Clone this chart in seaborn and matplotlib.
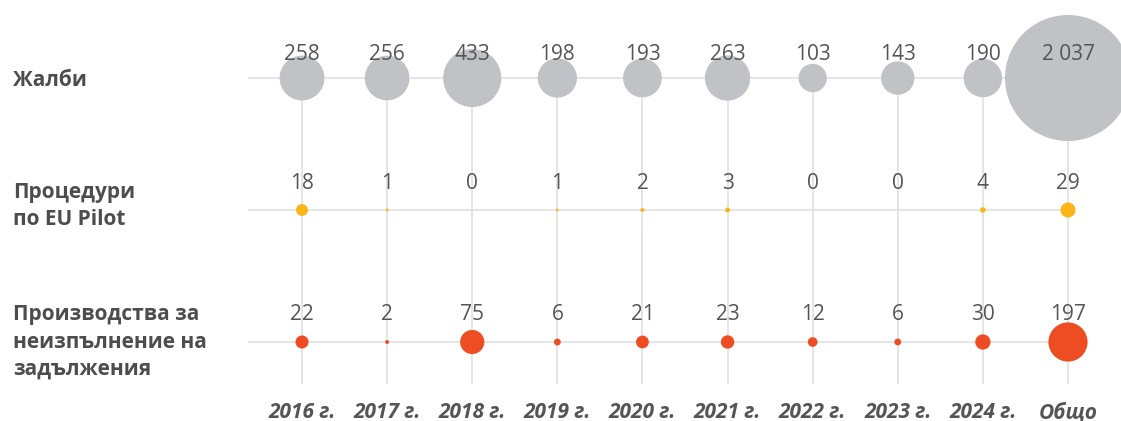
import numpy as np
import pandas as pd
import matplotlib
matplotlib.use("Agg")
import matplotlib.pyplot as plt
import seaborn as sns

# ---- data ----
columns = ["2016 г.", "2017 г.", "2018 г.", "2019 г.", "2020 г.", "2021 г.",
           "2022 г.", "2023 г.", "2024 г.", "Общо"]
row_labels = ["Жалби", "Процедури\nпо EU Pilot", "Производства за\nнеизпълнение на\nзадължения"]
complaints = [258, 256, 433, 198, 193, 263, 103, 143, 190, 2037]
eu_pilot = [18, 1, 0, 1, 2, 3, 0, 0, 4, 29]
infringements = [22, 2, 75, 6, 21, 23, 12, 6, 30, 197]
row_colors = ["#c1c2c6", "#fab516", "#ee4d24"]

series = [complaints, eu_pilot, infringements]
records = []
for r, vals in enumerate(series):
    for c, v in enumerate(vals):
        records.append({"col": c, "row": r, "value": v, "rowname": str(r)})
df = pd.DataFrame(records)

sns.set_theme(style="white")
plt.rcParams["font.family"] = ["Open Sans", "DejaVu Sans"]

W, H = 1121, 421
fig = plt.figure(figsize=(W / 100, H / 100), dpi=100)

# pixel geometry
x0_px, dx_px = 302, (1068 - 302) / 9
y0_px, dy_px = 78, 132
bottom_px = 396
ax = fig.add_axes([0, (H - bottom_px) / H, 1, bottom_px / H])
ax.set_xlim(-x0_px / dx_px, (W - x0_px) / dx_px)
ax.set_ylim((bottom_px - y0_px) / dy_px, -y0_px / dy_px)

grid_c = "#dedede"
n = len(columns)
# vertical lines
ax.vlines(range(n), 0, (384 - y0_px) / dy_px, color=grid_c, lw=1.1, zorder=0)
# horizontal lines
ax.hlines(range(3), (248 - x0_px) / dx_px, n - 1, color=grid_c, lw=1.1, zorder=0)

max_v = max(complaints)
r_max_px = 63
smax = (2 * r_max_px * 0.72) ** 2
sns.scatterplot(data=df, x="col", y="row", size="value", sizes=(0, smax),
                size_norm=(0, max_v), hue="rowname",
                palette={str(i): c for i, c in enumerate(row_colors)},
                linewidth=0, alpha=1, legend=False, ax=ax, zorder=2)

# value labels
label_off_px = [18, 21, 22]
for r, vals in enumerate(series):
    for c, v in enumerate(vals):
        txt = f"{v:,}".replace(",", " ")
        ax.text(c, r - label_off_px[r] / dy_px, txt, ha="center", va="baseline",
                fontsize=15, color="#555555", zorder=3)

# row labels
row_label_y_px = [80, 206, 342]
for r, lab in enumerate(row_labels):
    ax.text(-(x0_px - 13) / dx_px, (row_label_y_px[r] - y0_px) / dy_px, lab,
            ha="left", va="center", fontsize=15, fontweight="bold",
            color="#4d4d4d", linespacing=1.38)

ax.set_xticks(range(n))
ax.set_xticklabels(columns, fontsize=15, fontweight="bold", fontstyle="italic",
                   color="#555555")
ax.tick_params(axis="x", length=0, pad=4)
ax.set_yticks([])
ax.set_xlabel("")
ax.set_ylabel("")
for s in ax.spines.values():
    s.set_visible(False)

fig.savefig("out.png", dpi=100)
